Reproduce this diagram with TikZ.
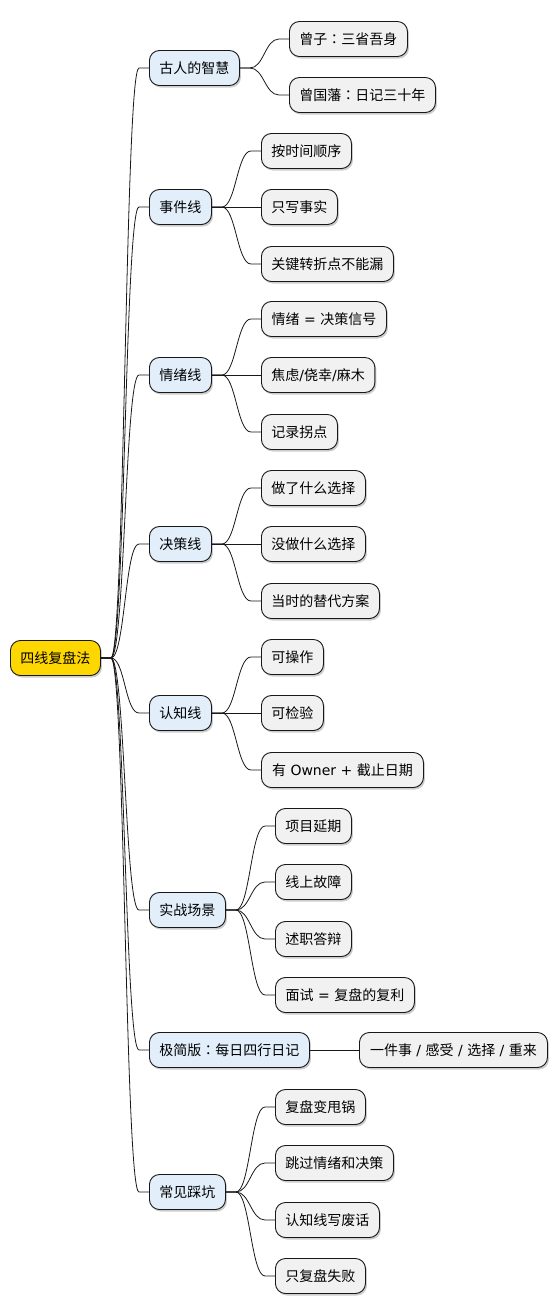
\documentclass[tikz,border=0pt]{standalone}
\usepackage{fontspec}
\setmainfont{Noto Sans CJK SC}
\newfontfamily\latin{DejaVu Sans}
\newfontfamily\cjktc{Noto Sans CJK TC}
\newcommand{\colonmark}{{\cjktc ：}}
\usepackage{tikz}
\usetikzlibrary{positioning, shadows}
\definecolor{rootfill}{HTML}{FFD700}
\definecolor{topicfill}{HTML}{E2EFFB}
\definecolor{leaffill}{HTML}{F1F1F1}
\definecolor{edgecol}{HTML}{181818}
\tikzset{
	mapnode/.style={rectangle, rounded corners=10pt, draw=edgecol, line width=0.9pt,
		minimum height=35pt, inner xsep=10pt, inner ysep=4pt, anchor=west,
		font=\fontsize{14}{16}\selectfont,
		drop shadow={shadow xshift=1.5pt, shadow yshift=-2pt, opacity=0.2, fill=black}},
	rootnode/.style={mapnode, fill=rootfill},
	topic/.style={mapnode, fill=topicfill},
	leaf/.style={mapnode, fill=leaffill},
	link/.style={draw=edgecol, line width=0.8pt},
	sbend/.style={out=0, in=180, out distance=14pt, in distance=14pt}
}

\begin{document}
\begin{tikzpicture}[x=1pt, y=-1pt]
	\useasboundingbox (0,0) rectangle (557,1315);

	% root
	\node[rootnode] (root) at (10,658) {四线复盘法};

	% first level
	\node[topic] (wise) at (149,68) {古人的智慧};
	\node[topic] (event) at (149,207) {事件线};
	\node[topic] (mood) at (149,375) {情绪线};
	\node[topic] (choice) at (149,544) {决策线};
	\node[topic] (insight) at (149,713) {认知线};
	\node[topic] (scene) at (149,910) {实战场景};
	\node[topic] (mini) at (149,1050) {极简版\colonmark 每日四行日记};
	\node[topic] (pit) at (149,1192) {常见踩坑};

	% second level
	\node[leaf] (wise1) at (289,39) {曾子\colonmark 三省吾身};
	\node[leaf] (wise2) at (289,95) {曾国藩\colonmark 日记三十年};

	\node[leaf] (event1) at (261,151) {按时间顺序};
	\node[leaf] (event2) at (261,207) {只写事实};
	\node[leaf] (event3) at (261,264) {关键转折点不能漏};

	\node[leaf, minimum width=125pt] (mood1) at (261,319) {情绪{\latin\ =\ }决策信号};
	\node[leaf] (mood2) at (261,375) {焦虑{\latin/}侥幸{\latin/}麻木};
	\node[leaf] (mood3) at (261,432) {记录拐点};

	\node[leaf] (choice1) at (261,488) {做了什么选择};
	\node[leaf] (choice2) at (261,544) {没做什么选择};
	\node[leaf] (choice3) at (261,601) {当时的替代方案};

	\node[leaf] (insight1) at (261,657) {可操作};
	\node[leaf] (insight2) at (261,713) {可检验};
	\node[leaf, minimum width=162pt] (insight3) at (261,770) {有{\latin\ Owner + }截止日期};

	\node[leaf] (scene1) at (275,826) {项目延期};
	\node[leaf] (scene2) at (275,882) {线上故障};
	\node[leaf] (scene3) at (275,939) {述职答辩};
	\node[leaf, minimum width=139pt] (scene4) at (275,995) {面试{\latin\ =\ }复盘的复利};

	\node[leaf, minimum width=188pt] (mini1) at (359,1050) {一件事{\latin\ /\ }感受{\latin\ /\ }选择{\latin\ /\ }重来};

	\node[leaf] (pit1) at (275,1107) {复盘变甩锅};
	\node[leaf] (pit2) at (275,1163) {跳过情绪和决策};
	\node[leaf] (pit3) at (275,1220) {认知线写废话};
	\node[leaf] (pit4) at (275,1276) {只复盘失败};

	% root to topics
	\draw[link] (root.east) -- ++(10,0) to[sbend] ([xshift=-10pt]wise.west) -- (wise.west);
	\draw[link] (root.east) -- ++(10,0) to[sbend] ([xshift=-10pt]event.west) -- (event.west);
	\draw[link] (root.east) -- ++(10,0) to[sbend] ([xshift=-10pt]mood.west) -- (mood.west);
	\draw[link] (root.east) -- ++(10,0) to[sbend] ([xshift=-10pt]choice.west) -- (choice.west);
	\draw[link] (root.east) -- ++(10,0) to[sbend] ([xshift=-10pt]insight.west) -- (insight.west);
	\draw[link] (root.east) -- ++(10,0) to[sbend] ([xshift=-10pt]scene.west) -- (scene.west);
	\draw[link] (root.east) -- ++(10,0) to[sbend] ([xshift=-10pt]mini.west) -- (mini.west);
	\draw[link] (root.east) -- ++(10,0) to[sbend] ([xshift=-10pt]pit.west) -- (pit.west);

	% topics to leaves
	\draw[link] (wise.east) -- ++(10,0) to[sbend] ([xshift=-10pt]wise1.west) -- (wise1.west);
	\draw[link] (wise.east) -- ++(10,0) to[sbend] ([xshift=-10pt]wise2.west) -- (wise2.west);

	\draw[link] (event.east) -- ++(10,0) to[sbend] ([xshift=-10pt]event1.west) -- (event1.west);
	\draw[link] (event.east) -- (event2.west);
	\draw[link] (event.east) -- ++(10,0) to[sbend] ([xshift=-10pt]event3.west) -- (event3.west);

	\draw[link] (mood.east) -- ++(10,0) to[sbend] ([xshift=-10pt]mood1.west) -- (mood1.west);
	\draw[link] (mood.east) -- (mood2.west);
	\draw[link] (mood.east) -- ++(10,0) to[sbend] ([xshift=-10pt]mood3.west) -- (mood3.west);

	\draw[link] (choice.east) -- ++(10,0) to[sbend] ([xshift=-10pt]choice1.west) -- (choice1.west);
	\draw[link] (choice.east) -- (choice2.west);
	\draw[link] (choice.east) -- ++(10,0) to[sbend] ([xshift=-10pt]choice3.west) -- (choice3.west);

	\draw[link] (insight.east) -- ++(10,0) to[sbend] ([xshift=-10pt]insight1.west) -- (insight1.west);
	\draw[link] (insight.east) -- (insight2.west);
	\draw[link] (insight.east) -- ++(10,0) to[sbend] ([xshift=-10pt]insight3.west) -- (insight3.west);

	\draw[link] (scene.east) -- ++(10,0) to[sbend] ([xshift=-10pt]scene1.west) -- (scene1.west);
	\draw[link] (scene.east) -- ++(10,0) to[sbend] ([xshift=-10pt]scene2.west) -- (scene2.west);
	\draw[link] (scene.east) -- ++(10,0) to[sbend] ([xshift=-10pt]scene3.west) -- (scene3.west);
	\draw[link] (scene.east) -- ++(10,0) to[sbend] ([xshift=-10pt]scene4.west) -- (scene4.west);

	\draw[link] (mini.east) -- (mini1.west);

	\draw[link] (pit.east) -- ++(10,0) to[sbend] ([xshift=-10pt]pit1.west) -- (pit1.west);
	\draw[link] (pit.east) -- ++(10,0) to[sbend] ([xshift=-10pt]pit2.west) -- (pit2.west);
	\draw[link] (pit.east) -- ++(10,0) to[sbend] ([xshift=-10pt]pit3.west) -- (pit3.west);
	\draw[link] (pit.east) -- ++(10,0) to[sbend] ([xshift=-10pt]pit4.west) -- (pit4.west);
\end{tikzpicture}
\end{document}
